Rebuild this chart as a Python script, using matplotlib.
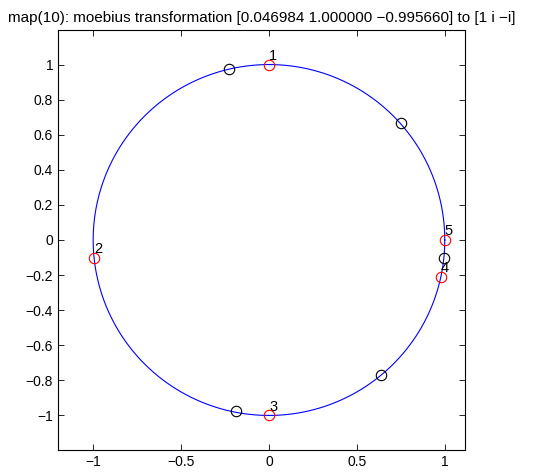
import numpy as np
import matplotlib
matplotlib.use("Agg")
import matplotlib.pyplot as plt

plt.rcParams['font.family'] = ['Liberation Sans', 'DejaVu Sans']

title = "map(10): moebius transformation [0.046984 1.000000 \u22120.995660] to [1 i \u2212i]"

# mapped points (red) with labels
red_x = [0.0, -0.995, 0.0, 0.977, 1.0]
red_y = [1.0, -0.10, -1.0, -0.21, 0.0]
red_labels = ["1", "2", "3", "4", "5"]

# original points (black)
black_x = [-0.227, 0.75, 0.995, 0.636, -0.1875]
black_y = [0.974, 0.667, -0.10, -0.77, -0.974]

xticks = [-1, -0.5, 0, 0.5, 1]
yticks = [-1, -0.8, -0.6, -0.4, -0.2, 0, 0.2, 0.4, 0.6, 0.8, 1]

fig = plt.figure(figsize=(5.39, 4.74), dpi=100)
ax = fig.add_axes([58/539, 1 - 450/474, (465-58)/539, (450-30)/474])

t = np.linspace(0, 2*np.pi, 400)
ax.plot(np.cos(t), np.sin(t), color='blue', lw=0.8)
ax.plot(black_x, black_y, 'o', mfc='none', mec='black', ms=7.5, mew=0.8)
ax.plot(red_x, red_y, 'o', mfc='none', mec='red', ms=7.5, mew=0.8)
for x, y, s in zip(red_x, red_y, red_labels):
    ax.text(x, y + 0.05, s, ha='left', va='center', fontsize=10.5)

ax.set_xlim(-1.2, 1.115)
ax.set_ylim(-1.197, 1.197)
ax.set_xticks(xticks)
ax.set_yticks(yticks)
ax.set_xticklabels([("%g" % v).replace('-', '\u2212') for v in xticks])
ax.set_yticklabels([("%g" % v).replace('-', '\u2212') for v in yticks])
ax.tick_params(direction='in', top=True, right=True, labelsize=10, length=4, width=0.6)
for sp in ax.spines.values():
    sp.set_linewidth(0.8)
ax.set_title(title, fontsize=11, pad=6)

fig.savefig("out.png", dpi=100)
